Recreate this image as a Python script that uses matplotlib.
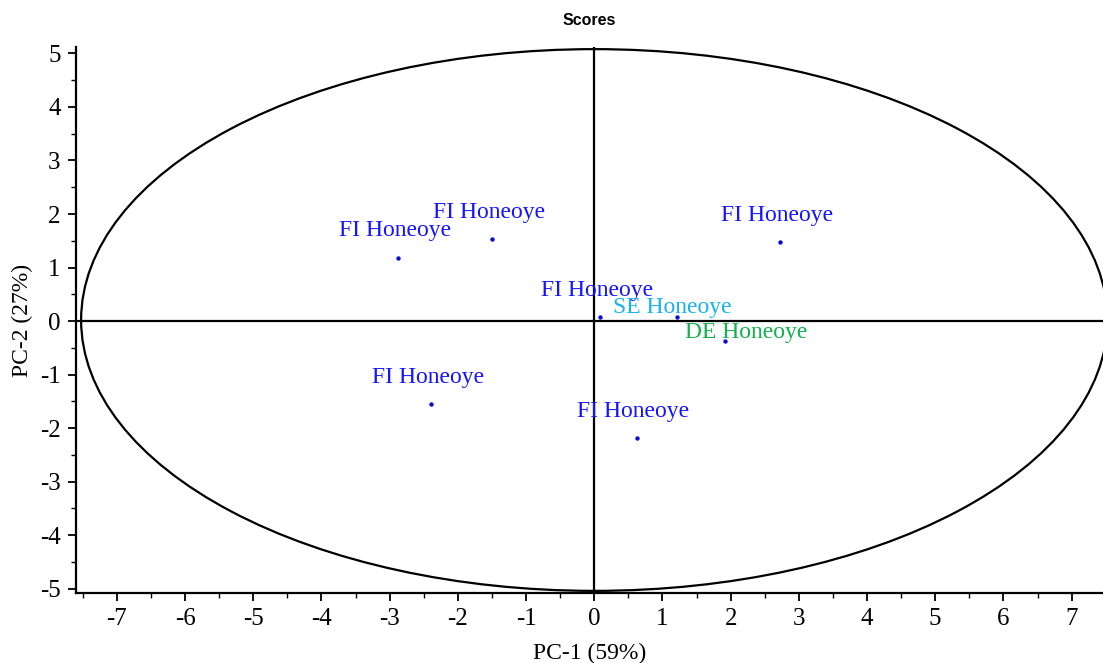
import matplotlib
matplotlib.use("Agg")
import matplotlib.pyplot as plt
from matplotlib.patches import Ellipse
from matplotlib.ticker import MultipleLocator

# Data
labels = ["FI Honeoye", "FI Honeoye", "FI Honeoye", "FI Honeoye",
          "SE Honeoye", "DE Honeoye", "FI Honeoye", "FI Honeoye"]
pc1 = [-2.88, -1.50, 2.73, 0.09, 1.22, 1.92, -2.40, 0.62]
pc2 = [1.18, 1.53, 1.47, 0.07, 0.07, -0.37, -1.55, -2.19]
label_colors = ["#1414ff", "#1414ff", "#1414ff", "#1414ff",
                "#19b2ee", "#12b04e", "#1414ff", "#1414ff"]
# label offsets in pixels (dx, dy)
label_offsets = [(-3, 27), (-3, 27), (-3, 27), (-3, 27),
                 (-5, 10), (21, 8), (-3, 27), (-3, 27)]
ellipse_w, ellipse_h = 15.05, 10.12

W, H = 1103, 663
fig = plt.figure(figsize=(W / 100, H / 100), dpi=100)
ax = fig.add_axes([76 / W, 1 - 593 / H, 1 - 76 / W, (593 - 47) / H])

serif = "Liberation Serif"

ax.set_xlim(-7.6, 7.46)
ax.set_ylim(-5.08, 5.12)

ax.axhline(0, color="black", lw=1.6, zorder=1)
ax.axvline(0, color="black", lw=1.6, zorder=1)
ax.add_patch(Ellipse((0, 0.02), ellipse_w, ellipse_h, fill=False,
                     edgecolor="black", lw=1.6, zorder=1))

ax.scatter(pc1, pc2, s=10, color="#0a0ad0", zorder=3, linewidths=0)
for x, y, t, c, (dx, dy) in zip(pc1, pc2, labels, label_colors, label_offsets):
    ax.annotate(t, (x, y), xytext=(dx, dy), textcoords="offset pixels",
                ha="center", va="center", color=c, fontsize=17,
                family=serif, zorder=4)

for s in ["top", "right"]:
    ax.spines[s].set_visible(False)
for s in ["left", "bottom"]:
    ax.spines[s].set_linewidth(1.6)

ax.xaxis.set_major_locator(MultipleLocator(1))
ax.xaxis.set_minor_locator(MultipleLocator(0.5))
ax.yaxis.set_major_locator(MultipleLocator(1))
ax.yaxis.set_minor_locator(MultipleLocator(0.5))
ax.tick_params(which="major", length=6, width=1.3, direction="out",
               labelsize=18, pad=5)
ax.tick_params(which="minor", length=3.5, width=1.0, direction="out")
for lab in ax.get_xticklabels() + ax.get_yticklabels():
    lab.set_family(serif)

def fmt(v, pos):
    return f"{int(round(v))}".replace("\u2212", "-")
ax.xaxis.set_major_formatter(plt.FuncFormatter(fmt))
ax.yaxis.set_major_formatter(plt.FuncFormatter(fmt))

ax.set_xlabel("PC-1 (59%)", family=serif, fontsize=17, labelpad=9)
ax.set_ylabel("PC-2 (27%)", family=serif, fontsize=17, labelpad=5)
ax.set_title("Scores", family="Liberation Sans", fontweight="bold",
             fontsize=11.5, pad=16)

fig.savefig("out.png", dpi=100)
